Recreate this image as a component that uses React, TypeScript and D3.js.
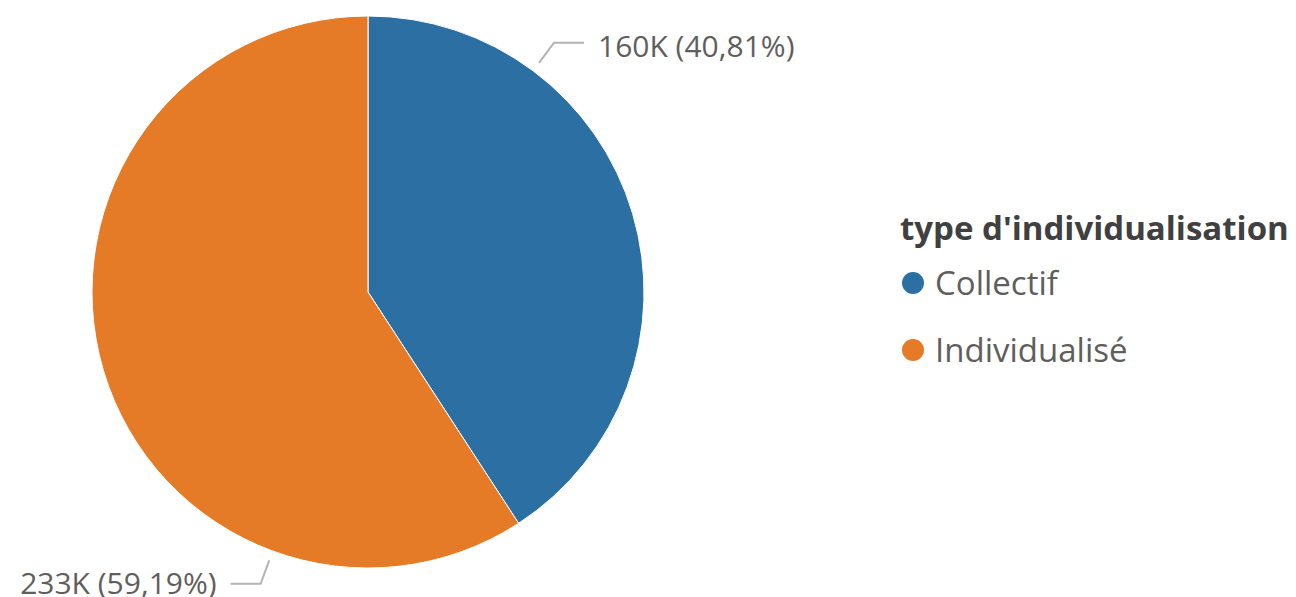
import React, { useRef, useEffect } from "react";
import * as d3 from "d3";

const categories = ["Collectif", "Individualisé"];
const values = [160400, 232600];
const valueLabels = ["160K", "233K"];
const percentLabels = ["40,81%", "59,19%"];
const colors = ["#2B6FA3", "#E57B26"];
const legendTitle = "type d'individualisation";

const W = 1296;
const H = 597;

const App: React.FC = () => {
  const svgRef = useRef<SVGSVGElement>(null);

  useEffect(() => {
    if (!svgRef.current) return;
    const svg = d3.select(svgRef.current);
    svg.selectAll("*").remove();

    const cx = 368;
    const cy = 292;
    const radius = 276;
    const font = "'Open Sans', 'Noto Sans', sans-serif";

    const data = categories.map((c, i) => ({ name: c, value: values[i], i }));
    const pie = d3
      .pie<{ name: string; value: number; i: number }>()
      .sort(null)
      .value((d) => d.value);
    const arcs = pie(data);
    const arc = d3
      .arc<d3.PieArcDatum<{ name: string; value: number; i: number }>>()
      .innerRadius(0)
      .outerRadius(radius);

    const g = svg.append("g").attr("transform", `translate(${cx},${cy})`);

    g.selectAll("path")
      .data(arcs)
      .enter()
      .append("path")
      .attr("d", arc)
      .attr("fill", (d) => colors[d.data.i])
      .attr("stroke", "#fff")
      .attr("stroke-width", 1);

    // data labels with leader lines (placed at a quarter of each slice)
    const pt = (a: number, r: number) => [r * Math.sin(a), -r * Math.cos(a)];
    arcs.forEach((d) => {
      const a = d.startAngle + (d.endAngle - d.startAngle) * 0.25;
      const p1 = pt(a, radius + 10);
      const p2 = pt(a, radius + 35);
      const right = Math.sin(a) >= 0;
      const p3 = [p2[0] + (right ? 30 : -30), p2[1]];
      g.append("polyline")
        .attr("points", [p1, p2, p3].map((p) => p.join(",")).join(" "))
        .attr("fill", "none")
        .attr("stroke", "#B3B3B3")
        .attr("stroke-width", 2);
      g.append("text")
        .attr("x", p3[0] + (right ? 14 : -14))
        .attr("y", p3[1] + (right ? 4 : 0))
        .attr("dy", "0.35em")
        .attr("text-anchor", right ? "start" : "end")
        .attr("font-family", font)
        .attr("font-size", 30)
        .attr("fill", "#605E5C")
        .text(`${valueLabels[d.data.i]} (${percentLabels[d.data.i]})`);
    });

    // legend
    const legend = svg.append("g").attr("transform", `translate(900, 228)`);
    legend
      .append("text")
      .attr("x", 0)
      .attr("y", 0)
      .attr("dy", "0.35em")
      .attr("font-family", font)
      .attr("font-weight", "bold")
      .attr("font-size", 33)
      .attr("fill", "#404040")
      .text(legendTitle);

    categories.forEach((c, i) => {
      const item = legend.append("g").attr("transform", `translate(0, ${55 + i * 67})`);
      item
        .append("circle")
        .attr("cx", 13)
        .attr("cy", 0)
        .attr("r", 11)
        .attr("fill", colors[i]);
      item
        .append("text")
        .attr("x", 35)
        .attr("y", 0)
        .attr("dy", "0.35em")
        .attr("font-family", font)
        .attr("font-size", 33)
        .attr("fill", "#605E5C")
        .text(c);
    });
  }, []);

  return (
    <svg
      ref={svgRef}
      width={W}
      height={H}
      style={{ position: "absolute", left: 0, top: 0, background: "#fff" }}
    ></svg>
  );
};

export default App;
